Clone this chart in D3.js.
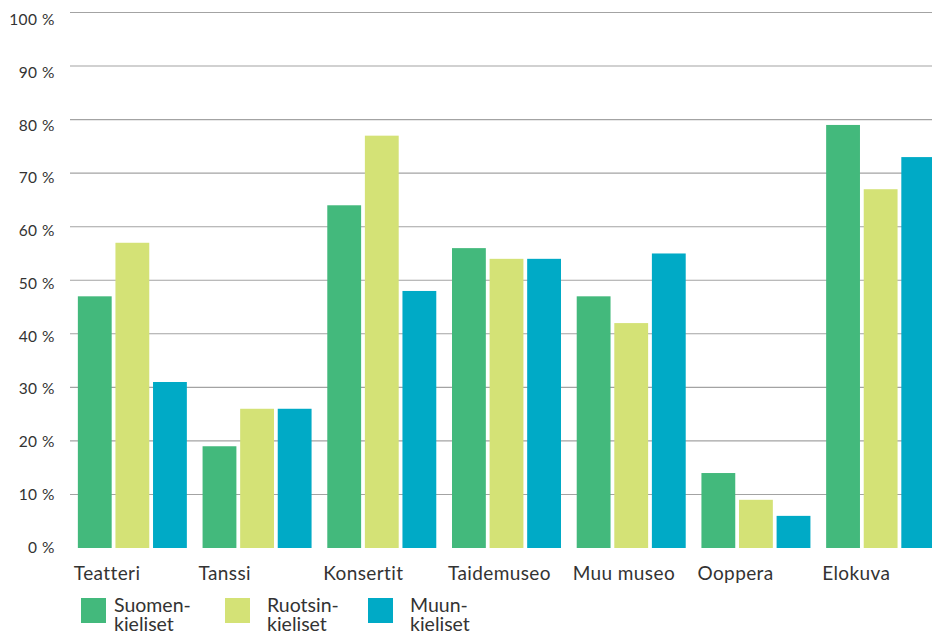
<!DOCTYPE html>
<html>
<head>
<meta charset="utf-8">
<script src="https://cdn.jsdelivr.net/npm/d3@7"></script>
<style>
  html, body { margin: 0; padding: 0; background: #fff; }
  svg { display: block; font-family: Lato, "Open Sans", sans-serif; }
</style>
</head>
<body>
<svg id="chart" width="932" height="633"></svg>
<script>
const categories = ["Teatteri", "Tanssi", "Konsertit", "Taidemuseo", "Muu museo", "Ooppera", "Elokuva"];
const seriesNames = ["Suomen-kieliset", "Ruotsin-kieliset", "Muun-kieliset"];
const legendLines = [["Suomen-", "kieliset"], ["Ruotsin-", "kieliset"], ["Muun-", "kieliset"]];
const suomenkieliset = [47, 19, 64, 56, 47, 14, 79];
const ruotsinkieliset = [57, 26, 77, 54, 42, 9, 67];
const muunkieliset = [31, 26, 48, 54, 55, 6, 73];
const yTicks = [10, 20, 30, 40, 50, 60, 70, 80, 90, 100];
const yTickLabels = [0, 10, 20, 30, 40, 50, 60, 70, 80, 90, 100];
const colors = ["#43b97c", "#d4e276", "#00aac6"];

const series = [suomenkieliset, ruotsinkieliset, muunkieliset];
const svg = d3.select("#chart");

const y = d3.scaleLinear().domain([0, 100]).range([548, 12.5]);
const yLab = d3.scaleLinear().domain([0, 100]).range([552.7, 25]);
const x0 = d3.scaleBand().domain(categories).range([70, 943]).paddingInner(0.126).paddingOuter(0.063);
const x1 = d3.scaleBand().domain(d3.range(3)).range([0, x0.bandwidth()]).paddingInner(0.1);

// gridlines
svg.append("g").selectAll("line").data(yTicks).join("line")
  .attr("x1", 70).attr("x2", 932)
  .attr("y1", d => y(d)).attr("y2", d => y(d))
  .attr("stroke", "#a3a3a3").attr("stroke-width", 1.1);

// y labels
svg.append("g").selectAll("text").data(yTickLabels).join("text")
  .attr("x", 55).attr("y", d => yLab(d))
  .attr("text-anchor", "end")
  .attr("font-size", 15.5).attr("letter-spacing", 0.5).attr("fill", "#333")
  .text(d => d + " %");

// bars
const groups = svg.append("g").selectAll("g").data(categories).join("g")
  .attr("transform", c => `translate(${x0(c)},0)`);
groups.selectAll("rect").data((c, i) => series.map((s, k) => ({k, v: s[i]}))).join("rect")
  .attr("x", d => x1(d.k))
  .attr("width", x1.bandwidth())
  .attr("y", d => y(d.v))
  .attr("height", d => y(0) - y(d.v))
  .attr("fill", d => colors[d.k]);

// category labels
svg.append("g").selectAll("text").data(categories).join("text")
  .attr("x", c => x0(c) - 4).attr("y", 580.3)
  .attr("font-size", 19).attr("letter-spacing", 0.4).attr("fill", "#333")
  .text(c => c);

// legend
const legX = [81, 225, 368];
const legTextX = [114, 267, 410];
const leg = svg.append("g").selectAll("g").data(seriesNames).join("g");
leg.append("rect")
  .attr("x", (d, i) => legX[i]).attr("y", 598)
  .attr("width", 25).attr("height", 25)
  .attr("fill", (d, i) => colors[i]);
leg.each(function(d, i) {
  const t = d3.select(this).append("text")
    .attr("font-size", 19.5).attr("fill", "#333");
  legendLines[i].forEach((ln, j) => {
    t.append("tspan").attr("x", legTextX[i]).attr("y", 612.3 + j * 19).text(ln);
  });
});
</script>
</body>
</html>
